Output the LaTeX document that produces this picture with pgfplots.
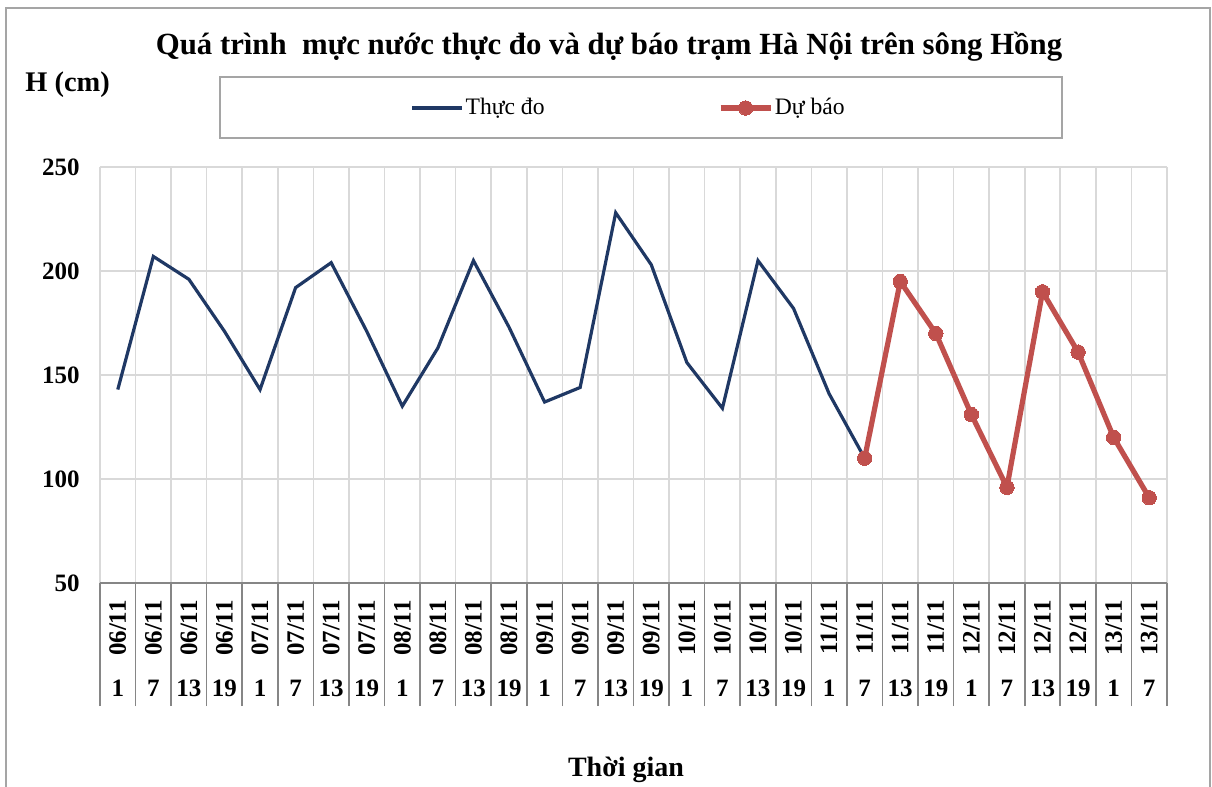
\documentclass[border=0pt]{standalone}
\usepackage{fontspec}
\setmainfont{Liberation Serif}
\usepackage{pgfplots}
\pgfplotsset{compat=1.18}
\definecolor{navy}{RGB}{31,56,100}
\definecolor{redd}{RGB}{192,80,77}
\definecolor{gridc}{RGB}{217,217,217}
\definecolor{axc}{RGB}{134,134,134}
\definecolor{framec}{RGB}{165,165,165}
\newcommand\D[1]{\rotatebox{90}{#1}}
\begin{document}
\begin{tikzpicture}
\useasboundingbox (-50pt,-102pt) rectangle (556pt,291.5pt);
\fill[white] (-50pt,-102pt) rectangle (556pt,291.5pt);
\draw[framec, line width=1pt] (-47pt,-110pt) -- (-47pt,287.5pt) -- (555pt,287.5pt) -- (555pt,-110pt);
\draw[framec, line width=0.8pt] (60pt,222.5pt) rectangle (481pt,253pt);
\node[font=\fontsize{15.4}{17}\selectfont\bfseries] at (254.5pt,268pt) {Quá trình\ \ mực nước thực đo và dự báo trạm Hà Nội trên sông Hồng};
\node[anchor=west, inner sep=0pt, font=\fontsize{14.2}{16}\selectfont\bfseries] at (-37.5pt,249pt) {H (cm)};
\node[font=\fontsize{14}{16}\selectfont\bfseries] at (263pt,-93.5pt) {Thời gian};
\begin{axis}[
  at={(0pt,0pt)}, anchor=south west,
  scale only axis, width=533.5pt, height=208pt,
  xmin=-0.5, xmax=29.5, ymin=50, ymax=250,
  ytick={100,150,200,250},
  extra y ticks={50},
  extra y tick style={major grid style={axc, line width=0.9pt}},
  /pgf/number format/assume math mode=true,
  yticklabel style={font=\fontsize{12.5}{15}\selectfont\bfseries, anchor=east, inner sep=0pt, xshift=-10pt},
  xtick={0,...,29},
  xticklabels={\D{06/11},\D{06/11},\D{06/11},\D{06/11},\D{07/11},\D{07/11},\D{07/11},\D{07/11},\D{08/11},\D{08/11},\D{08/11},\D{08/11},\D{09/11},\D{09/11},\D{09/11},\D{09/11},\D{10/11},\D{10/11},\D{10/11},\D{10/11},\D{11/11},\D{11/11},\D{11/11},\D{11/11},\D{12/11},\D{12/11},\D{12/11},\D{12/11},\D{13/11},\D{13/11}},
  xticklabel style={font=\fontsize{12.5}{15}\selectfont\bfseries, anchor=north, inner sep=0pt},
  xticklabel shift=8.5pt,
  extra x ticks={0,...,29},
  extra x tick labels={1,7,13,19,1,7,13,19,1,7,13,19,1,7,13,19,1,7,13,19,1,7,13,19,1,7,13,19,1,7},
  extra x tick style={grid=none, xticklabel shift=48.5pt},
  minor xtick={-0.5,0.5,...,29.5},
  xminorgrids=true, xmajorgrids=false, ymajorgrids=true,
  major grid style={gridc, line width=0.8pt},
  minor grid style={gridc, line width=0.8pt},
  axis line style={draw=none},
  tick align=outside, xtick pos=left, ytick pos=left,
  major tick length=0pt, minor tick length=61.5pt,
  minor tick style={axc, line width=0.8pt},
  legend columns=2,
  legend style={at={(0.291,1.1418)}, anchor=west, draw=none, fill=none, inner sep=0pt,
    nodes={inner sep=0.75pt}, font=\fontsize{11.8}{13}\selectfont,
    /tikz/every even column/.append style={column sep=86pt}},
  legend image code/.code={\draw[mark repeat=2,mark phase=2,#1] plot coordinates {(0pt,0pt)(12.5pt,0pt)(25pt,0pt)};},
]
\addplot[navy, line width=1.6pt, mark=none] coordinates {
(0,143)(1,207)(2,196)(3,171)(4,143)(5,192)(6,204)(7,171)(8,135)(9,163)(10,205)
(11,173)(12,137)(13,144)(14,228)(15,203)(16,156)(17,134)(18,205)(19,182)(20,141)(21,110)};
\addlegendentry{Thực đo}
\addplot[redd, line width=2.6pt, mark=*, mark size=3.6pt, mark options={fill=redd, draw=redd, line width=0pt}] coordinates {
(21,110)(22,195)(23,170)(24,131)(25,96)(26,190)(27,161)(28,120)(29,91)};
\addlegendentry{Dự báo}
\end{axis}
\end{tikzpicture}
\end{document}
